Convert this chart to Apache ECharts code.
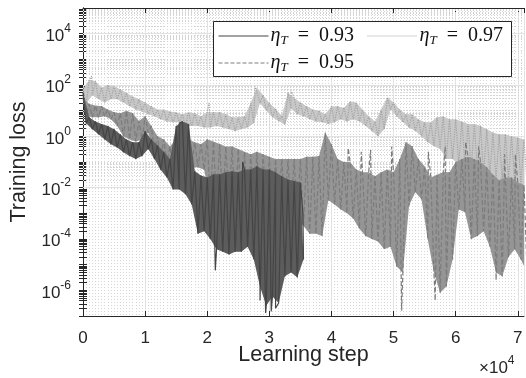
<!DOCTYPE html>
<html>
<head>
<meta charset="utf-8">
<script src="https://cdn.jsdelivr.net/npm/echarts@6/dist/echarts.min.js"></script>
<style>html,body{margin:0;padding:0;background:#fff}#chart{width:526px;height:378px}</style>
</head>
<body>
<div id="chart"></div>
<script>
// sample positions, in thousands of learning steps
const stepsK = [0,1,2,3,4,5,6,7,8,9,10,11,12,13,14,15,16,17,18,19,20,21,22,23,24,25,26,27,28,29,30,31,32,33,34,35,
  36,37,38,39,40,41,42,43,44,45,46,47,48,49,50,51,52,53,54,55,56,57,58,59,60,61,62,63,64,65,66,67,68,69,70,71];

// eta_T = 0.93 (stops at ~3.5e4), upper / lower edge of the noisy band
const hi093 = [50,5.5,3.8,3.0,2.5,1.9,1.2,0.76,0.59,0.59,1.6,0.76,0.45,0.25,0.13,2.5,3.8,3.0,
  4.4e-2,3.0e-2,2.5e-2,3.3e-2,3.3e-2,4e-2,4.4e-2,4e-2,5.1e-2,5.1e-2,6.8e-2,5.1e-2,5.1e-2,4e-2,2.8e-2,2.1e-2,1.8e-2,1.6e-2];
const lo093 = [3.2,1.9,1.2,0.76,0.49,0.37,0.24,0.17,0.13,0.17,0.32,0.13,0.05,0.025,8.5e-3,8.5e-3,5.5e-3,2.2e-3,
  1.6e-4,2.0e-4,1e-4,4e-5,3.2e-5,2.5e-5,3.2e-5,3.2e-5,5e-5,1.6e-5,1.4e-6,2.5e-7,5.8e-7,3.2e-7,3.5e-6,5e-6,3.2e-6,1.6e-5];
const spikes093 = [[15500,3.2],[21300,6e-6],[25700,0.1],[28500,4e-7],[29400,1.3e-7],[30300,1.5e-7],[31000,2e-7],[35400,1e-3]];

// eta_T = 0.95
const hi095 = [32,18,16,15,11,8.7,8,10,8,4,6,2.5,1.0,0.76,0.41,0.76,1.0,0.76,0.59,0.49,0.76,0.63,0.5,0.4,0.4,0.32,0.25,0.2,0.25,0.2,0.16,0.13,0.13,0.13,0.13,0.13,
  0.16,0.16,0.17,1.4,0.49,0.13,0.1,0.1,0.051,0.04,0.04,0.028,0.04,0.051,0.04,0.13,0.59,0.41,0.13,0.068,0.025,0.032,0.04,0.04,0.1,0.13,0.16,0.13,0.1,0.063,0.032,0.02,0.025,0.025,0.016,0.013];
const lo095 = [6.3,5.5,5.5,6.0,4.6,2.5,1.0,0.76,0.63,0.76,1.4,0.24,0.13,0.1,0.051,0.044,0.051,0.063,0.063,0.05,3.2e-3,2.5e-3,2.5e-3,2e-3,1.6e-3,1.6e-3,1.6e-3,1.6e-3,1e-3,1e-3,1e-3,1e-3,1e-3,1e-3,6.3e-4,3.2e-4,
  1.6e-4,1.6e-4,1.3e-4,3.2e-3,2.2e-3,1.4e-3,1e-3,6.3e-4,2.5e-4,1.3e-4,1e-4,8e-5,4e-5,5e-5,8.5e-6,5e-6,2e-3,6.6e-3,3.5e-3,1e-4,5e-6,8e-7,1.4e-6,1.6e-5,1.4e-3,1.1e-3,1e-4,1.3e-4,2e-4,5e-5,5e-6,3.5e-6,2e-5,4e-5,1.6e-5,5e-6];
const spikes095 = [[39300,1.5],[42700,0.35],[44800,0.25],[46300,0.3],[49700,0.4],[51300,1.6e-7],[55600,0.25],[56700,4e-7],
  [58300,0.4],[61600,0.6],[63700,0.4],[66500,2.5e-6],[67900,0.2],[69600,0.2]];

// eta_T = 0.97
const hi097 = [68,160,140,80,100,89,68,50,36,28,21,15,11,11,9.3,8.7,7.2,8.7,8,6,8.7,8.7,8.7,7.2,5.5,5.5,6,20,80,40,20,12,6.3,50,32,21,
  15,11,10,7.2,15,15,13,23,21,11,6,3.8,11,33,21,11,7.2,7.2,4.6,3.5,3.5,5.5,6,4.6,4.6,3.8,3.0,3.0,2.5,1.9,1.4,1.2,1.2,1.0,0.9,0.76];
const lo097 = [18,40,28,21,28,28,21,15,11,9.3,7.2,6.0,4.6,3.8,3.5,3.5,2.5,2.5,2.5,2.2,2.2,2.5,2.2,1.9,1.6,1.9,2.2,3.2,20,10,5.6,4.0,2.8,12,7.2,6,
  4.6,3.8,3.5,3.0,3.5,4.6,3.8,4.6,3.8,2.5,1.6,1.0,1.9,11,6,3.5,2.2,1.6,1.0,0.59,0.41,0.32,0.13,0.13,0.08,0.08,0.051,0.05,0.033,0.032,0.021,0.02,0.02,0.016,0.014,0.013];
const spikes097 = [[1400,220],[20300,20],[27700,90],[33500,60]];

const yLabelExp = [-6,-4,-2,0,2,4];   // labelled exponents
const yDecades = [-7,-6,-5,-4,-3,-2,-1,0,1,2,3,4];

function zigzag(hi, lo, spikes) {
  const pts = [];
  for (let i = 0; i < hi.length; i++) {
    pts.push([stepsK[i] * 1000, hi[i]]);
    pts.push([stepsK[i] * 1000 + 500, lo[i]]);
  }
  return pts.concat(spikes).sort((a, b) => a[0] - b[0]);
}

// filled envelope between the upper and lower edges
function bandSeries(hi, lo, fill) {
  return {
    type: 'custom', silent: true, clip: true, data: [[0, 1]],
    renderItem: (params, api) => {
      const pts = [];
      for (let i = 0; i < hi.length; i++) pts.push(api.coord([stepsK[i] * 1000, hi[i]]));
      for (let i = lo.length - 1; i >= 0; i--) pts.push(api.coord([stepsK[i] * 1000 + 500, lo[i]]));
      return { type: 'polygon', shape: { points: pts }, style: { fill: fill } };
    }
  };
}

// tick / grid values on the log axis
const minorVals = [];
const majorVals = yLabelExp.map(e => Math.pow(10, e));
yDecades.forEach(e => { for (let m = 1; m <= 9; m++) minorVals.push(m * Math.pow(10, e)); });

const gridLines = minorVals.filter(v => v > 1.5e-7).map(v => {
  const major = majorVals.some(m => Math.abs(m - v) / m < 1e-9);
  return { yAxis: v, lineStyle: major ? { color: '#e2e2e2', width: 1, type: 'solid' } : { color: '#d4d4d4', width: 1, type: [1, 2] } };
});

const axisColor = '#262626';
const tickFont = 'Liberation Sans';

const chart = echarts.init(document.getElementById('chart'));
chart.setOption({
  animation: false,
  grid: { left: 83, right: 2, top: 8, bottom: 62 },
  xAxis: [{
    type: 'value', min: 0, max: 71000, interval: 10000,
    name: 'Learning step', nameLocation: 'middle', nameGap: 28, nameMoveOverlap: false,
    nameTextStyle: { fontFamily: tickFont, fontSize: 21.5, color: axisColor },
    axisLine: { show: true, lineStyle: { color: axisColor } },
    axisTick: { inside: true, length: 5, lineStyle: { color: axisColor } },
    axisLabel: { fontFamily: tickFont, fontSize: 17, color: axisColor, margin: 14, showMaxLabel: false,
      formatter: v => String(v / 10000) },
    splitLine: { show: true, lineStyle: { color: '#e2e2e2' } },
    minorTick: { show: false, splitNumber: 20 },
    minorSplitLine: { show: true, lineStyle: { color: '#d6d6d6', type: [1, 2] } }
  }, {
    type: 'value', min: 0, max: 71000, interval: 10000, position: 'top',
    axisLine: { show: true, lineStyle: { color: axisColor } },
    axisTick: { inside: true, length: 5, lineStyle: { color: axisColor } },
    axisLabel: { show: false }, splitLine: { show: false }
  }],
  yAxis: [{
    type: 'log', logBase: 10, min: 1e-7, max: 1e5,
    name: 'Training loss', nameLocation: 'middle', nameGap: 52,
    nameTextStyle: { fontFamily: tickFont, fontSize: 21.5, color: axisColor },
    axisLine: { show: true, lineStyle: { color: axisColor } },
    axisTick: { inside: true, length: 4, customValues: minorVals, lineStyle: { color: axisColor } },
    splitLine: { show: false },
    axisLabel: {
      margin: 12, color: axisColor, customValues: majorVals,
      formatter: v => '{b|10}{s|' + Math.round(Math.log10(v)) + '}',
      rich: {
        b: { fontFamily: tickFont, fontSize: 17, color: axisColor, lineHeight: 22, verticalAlign: 'bottom' },
        s: { fontFamily: tickFont, fontSize: 12, color: axisColor, lineHeight: 12, verticalAlign: 'top' }
      }
    }
  }, {
    type: 'log', logBase: 10, min: 1e-7, max: 1e5, position: 'right',
    axisLine: { show: true, lineStyle: { color: axisColor } },
    axisTick: { inside: true, length: 4, customValues: minorVals, lineStyle: { color: axisColor } },
    axisLabel: { show: false }, splitLine: { show: false }
  }],
  legend: ['0.93', '0.97', '0.95'].map((n, i) => ({
    data: [n], left: [218, 367, 218][i], top: [26, 26, 53][i], padding: 0, z: 20,
    itemWidth: 50, itemHeight: 14, itemGap: 0, selectedMode: false,
    itemStyle: { opacity: 0 },
    lineStyle: { width: 1 },
    formatter: name => '{e|η}{t|T}{v|\u2002=\u2002' + name + '}',
    textStyle: {
      padding: [0, 0, 0, -3],
      rich: {
        e: { fontFamily: 'Liberation Serif', fontStyle: 'italic', fontSize: 20, color: '#111' },
        t: { fontFamily: 'Liberation Serif', fontStyle: 'italic', fontSize: 13, color: '#111', padding: [9, 0, 0, 0] },
        v: { fontFamily: 'Liberation Serif', fontSize: 20, color: '#111' }
      }
    }
  })),
  graphic: [
    { type: 'rect', left: 213, top: 21, z: 10, shape: { width: 298, height: 55 },
      style: { fill: '#fff', stroke: axisColor, lineWidth: 1 } },
    { type: 'text', left: 479, top: 355, z: 10,
      style: { text: '{x|×10}{s|4}', rich: {
        x: { fontFamily: tickFont, fontSize: 17, fill: axisColor, lineHeight: 22, verticalAlign: 'bottom' },
        s: { fontFamily: tickFont, fontSize: 12, fill: axisColor, lineHeight: 12, verticalAlign: 'top' } } } }
  ],
  series: [
    { name: 'grid', type: 'line', data: [], silent: true, z: 1,
      markLine: { silent: true, z: 1, symbol: 'none', label: { show: false }, data: gridLines } },
    Object.assign(bandSeries(hi097, lo097, '#c8c8c8'), { z: 2 }),
    { name: '0.97', type: 'line', symbol: 'none', z: 2, data: zigzag(hi097, lo097, spikes097),
      lineStyle: { color: '#a2a2a2', width: 1.2, type: 'dotted' } },
    Object.assign(bandSeries(hi095, lo095, '#959595'), { z: 3 }),
    { name: '0.95', type: 'line', symbol: 'none', z: 3, data: zigzag(hi095, lo095, spikes095),
      lineStyle: { color: '#7c7c7c', width: 1.2, type: 'dashed' } },
    Object.assign(bandSeries(hi093, lo093, '#5c5c5c'), { z: 4 }),
    { name: '0.93', type: 'line', symbol: 'none', z: 4, data: zigzag(hi093, lo093, spikes093),
      lineStyle: { color: '#454545', width: 1.2, type: 'solid' } }
  ]
});
</script>
</body>
</html>
